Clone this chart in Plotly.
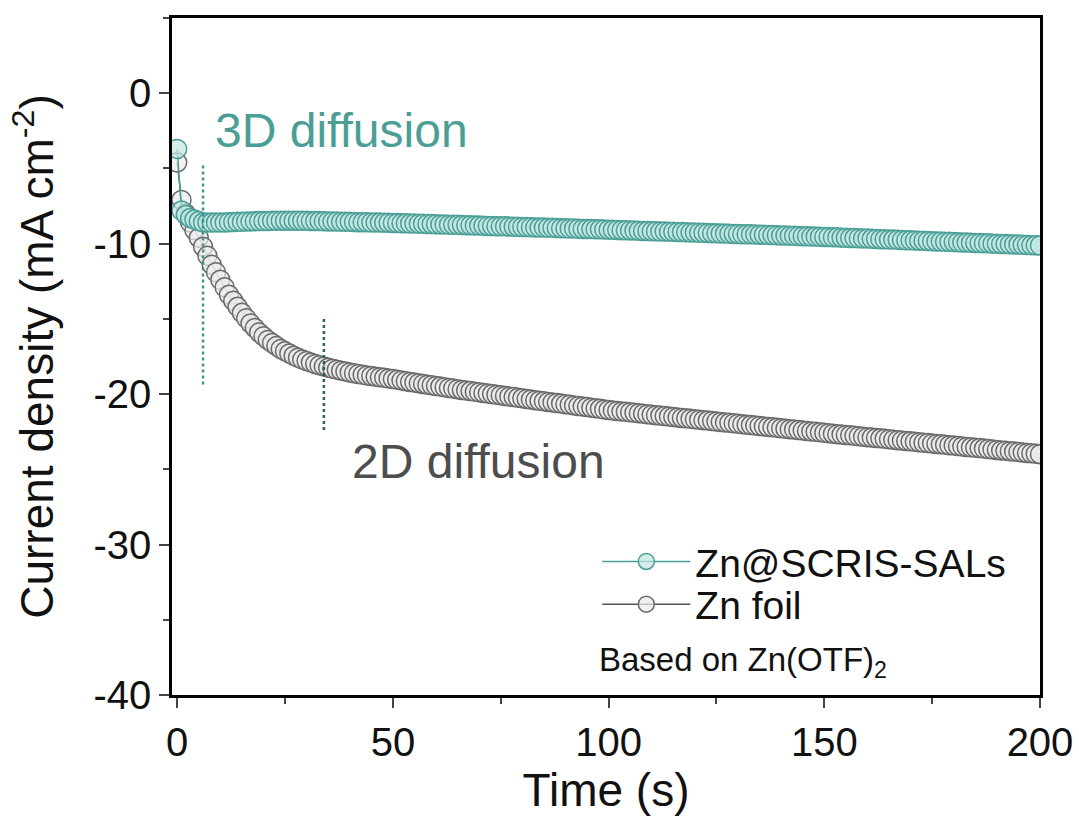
import plotly.graph_objects as go

# Chronoamperometry: current density vs time, sampled every 1 s
time_s = list(range(0, 201))

scris_sals = [
    -3.7, -7.8, -8.1, -8.3, -8.4, -8.5, -8.6, -8.6, -8.6, -8.6,
    -8.6, -8.6, -8.58, -8.56, -8.55, -8.54, -8.53, -8.52, -8.51, -8.5,
    -8.5, -8.49, -8.48, -8.48, -8.47, -8.47, -8.47, -8.47, -8.47, -8.48,
    -8.48, -8.49, -8.5, -8.5, -8.51, -8.52, -8.52, -8.53, -8.54, -8.54,
    -8.55, -8.56, -8.57, -8.57, -8.58, -8.59, -8.59, -8.6, -8.61, -8.61,
    -8.62, -8.63, -8.64, -8.65, -8.66, -8.66, -8.67, -8.68, -8.69, -8.7,
    -8.71, -8.72, -8.73, -8.74, -8.75, -8.75, -8.76, -8.77, -8.78, -8.79,
    -8.8, -8.81, -8.82, -8.83, -8.84, -8.84, -8.85, -8.86, -8.87, -8.88,
    -8.89, -8.9, -8.91, -8.92, -8.93, -8.93, -8.94, -8.95, -8.96, -8.97,
    -8.98, -8.99, -9.0, -9.01, -9.02, -9.02, -9.03, -9.04, -9.05, -9.06,
    -9.07, -9.08, -9.09, -9.1, -9.11, -9.12, -9.13, -9.14, -9.15, -9.16,
    -9.17, -9.18, -9.19, -9.19, -9.2, -9.21, -9.22, -9.23, -9.24, -9.25,
    -9.26, -9.27, -9.28, -9.29, -9.3, -9.31, -9.32, -9.33, -9.34, -9.35,
    -9.36, -9.37, -9.38, -9.38, -9.39, -9.4, -9.41, -9.42, -9.43, -9.44,
    -9.45, -9.46, -9.47, -9.48, -9.49, -9.5, -9.51, -9.52, -9.53, -9.54,
    -9.55, -9.56, -9.57, -9.58, -9.6, -9.61, -9.62, -9.63, -9.64, -9.65,
    -9.66, -9.68, -9.69, -9.7, -9.71, -9.72, -9.73, -9.74, -9.76, -9.77,
    -9.78, -9.79, -9.8, -9.81, -9.82, -9.84, -9.85, -9.86, -9.87, -9.88,
    -9.89, -9.9, -9.92, -9.93, -9.94, -9.95, -9.96, -9.97, -9.98, -10.0,
    -10.01, -10.02, -10.03, -10.04, -10.05, -10.06, -10.08, -10.09, -10.1, -10.11,
    -10.12,
]

zn_foil = [
    -4.6, -7.1, -8.0, -8.6, -9.1, -9.6, -10.2, -10.8, -11.4, -11.9,
    -12.4, -12.9, -13.4, -13.8, -14.2, -14.6, -14.95, -15.3, -15.6, -15.9,
    -16.15, -16.4, -16.6, -16.8, -17.0, -17.15, -17.3, -17.45, -17.58, -17.7,
    -17.8, -17.9, -18.0, -18.08, -18.16, -18.24, -18.31, -18.38, -18.44, -18.5,
    -18.56, -18.61, -18.66, -18.71, -18.76, -18.8, -18.84, -18.88, -18.92, -18.96,
    -19.0, -19.05, -19.09, -19.14, -19.19, -19.23, -19.28, -19.32, -19.37, -19.41,
    -19.46, -19.5, -19.54, -19.59, -19.63, -19.67, -19.72, -19.76, -19.8, -19.84,
    -19.88, -19.92, -19.96, -20.0, -20.04, -20.08, -20.12, -20.16, -20.2, -20.24,
    -20.28, -20.32, -20.36, -20.4, -20.44, -20.48, -20.52, -20.55, -20.59, -20.63,
    -20.67, -20.71, -20.75, -20.79, -20.82, -20.86, -20.9, -20.94, -20.98, -21.02,
    -21.06, -21.09, -21.12, -21.15, -21.18, -21.21, -21.24, -21.27, -21.3, -21.34,
    -21.37, -21.4, -21.43, -21.46, -21.49, -21.52, -21.55, -21.58, -21.61, -21.64,
    -21.67, -21.7, -21.73, -21.76, -21.79, -21.82, -21.85, -21.88, -21.91, -21.94,
    -21.97, -22.0, -22.03, -22.06, -22.09, -22.12, -22.15, -22.18, -22.21, -22.24,
    -22.27, -22.3, -22.33, -22.36, -22.39, -22.42, -22.45, -22.48, -22.51, -22.54,
    -22.57, -22.6, -22.63, -22.66, -22.69, -22.72, -22.74, -22.77, -22.8, -22.83,
    -22.86, -22.89, -22.91, -22.94, -22.97, -23.0, -23.03, -23.06, -23.08, -23.11,
    -23.14, -23.17, -23.2, -23.23, -23.25, -23.28, -23.31, -23.34, -23.37, -23.4,
    -23.42, -23.45, -23.48, -23.51, -23.54, -23.57, -23.59, -23.62, -23.65, -23.68,
    -23.71, -23.74, -23.76, -23.79, -23.82, -23.85, -23.88, -23.91, -23.93, -23.96,
    -23.99,
]

x_ticks = [0, 50, 100, 150, 200]
y_ticks = [0, -10, -20, -30, -40]
y_tick_text = ["0", "-10", "-20", "-30", "-40"]

# Onset markers for the two diffusion regimes: (time, y_top, y_bottom)
marker_3d = (6, -4.8, -19.5)
marker_2d = (34, -15.0, -22.4)

TEAL = "#4a9e95"
TEAL_FILL = "rgba(195,231,226,0.7)"
GREY = "#6a6a6a"
GREY_FILL = "rgba(235,235,235,0.7)"
FONT = "Liberation Sans, Arial, sans-serif"
INK = "#111111"

fig = go.Figure()

fig.add_trace(go.Scatter(
    x=time_s, y=zn_foil, mode="lines+markers", name="Zn foil",
    line=dict(color="#555555", width=1.5),
    marker=dict(size=19, color=GREY_FILL, line=dict(color=GREY, width=1.5)),
    legend="legend2",
))
fig.add_trace(go.Scatter(
    x=time_s, y=scris_sals, mode="lines+markers", name="Zn@SCRIS-SALs",
    line=dict(color=TEAL, width=1.5),
    marker=dict(size=19, color=TEAL_FILL, line=dict(color=TEAL, width=1.5)),
    legend="legend",
))

# Dotted vertical guides
fig.add_trace(go.Scatter(
    x=[marker_3d[0], marker_3d[0]], y=[marker_3d[1], marker_3d[2]],
    mode="lines", line=dict(color="#3f948b", width=2.5, dash="dot"),
    showlegend=False, hoverinfo="skip",
))
fig.add_trace(go.Scatter(
    x=[marker_2d[0], marker_2d[0]], y=[marker_2d[1], marker_2d[2]],
    mode="lines", line=dict(color="#2f5f63", width=2.5, dash="dot"),
    showlegend=False, hoverinfo="skip",
))

fig.add_annotation(x=8.3, y=-2.45, xanchor="left", yanchor="middle",
                   text="3D diffusion", showarrow=False,
                   font=dict(family=FONT, size=48, color=TEAL))
fig.add_annotation(x=40.0, y=-24.5, xanchor="left", yanchor="middle",
                   text="2D diffusion", showarrow=False,
                   font=dict(family=FONT, size=48, color="#4d4d4d"))
fig.add_annotation(x=97.3, y=-37.8, xanchor="left", yanchor="middle",
                   text="Based on Zn(OTF)<sub>2</sub>", showarrow=False,
                   font=dict(family=FONT, size=33, color=INK))

legend_style = dict(
    xanchor="left", yanchor="middle", bgcolor="rgba(0,0,0,0)",
    font=dict(family=FONT, size=39, color=INK), itemwidth=88,
)

fig.update_layout(
    width=1079, height=816,
    margin=dict(l=172, r=39, t=18, b=119),
    paper_bgcolor="white", plot_bgcolor="white",
    font=dict(family=FONT, color=INK),
    legend=dict(x=0.49, y=0.197, **legend_style),
    legend2=dict(x=0.49, y=0.134, **legend_style),
    xaxis=dict(
        range=[-1.2, 200], tickvals=x_ticks, ticks="outside", ticklen=10, tickwidth=2,
        showline=True, linewidth=2.5, linecolor="black", mirror=True,
        showgrid=False, zeroline=False, automargin="height+bottom",
        tickfont=dict(family=FONT, size=40, color=INK),
        minor=dict(dtick=25, tick0=0, ticks="outside", ticklen=6, tickwidth=2, showgrid=False),
        title=dict(text="Time (s)", font=dict(family=FONT, size=46, color=INK), standoff=8),
    ),
    yaxis=dict(
        range=[-40, 5], tickvals=y_ticks, ticktext=y_tick_text, ticks="outside",
        ticklen=10, tickwidth=2,
        showline=True, linewidth=2.5, linecolor="black", mirror=True,
        showgrid=False, zeroline=False, automargin="width+left",
        tickfont=dict(family=FONT, size=40, color=INK),
        minor=dict(dtick=5, tick0=0, ticks="outside", ticklen=6, tickwidth=2, showgrid=False),
        title=dict(text="Current density (mA cm<sup>-2</sup>)",
                   font=dict(family=FONT, size=46, color=INK), standoff=26),
    ),
)

fig.write_html("out.html")
